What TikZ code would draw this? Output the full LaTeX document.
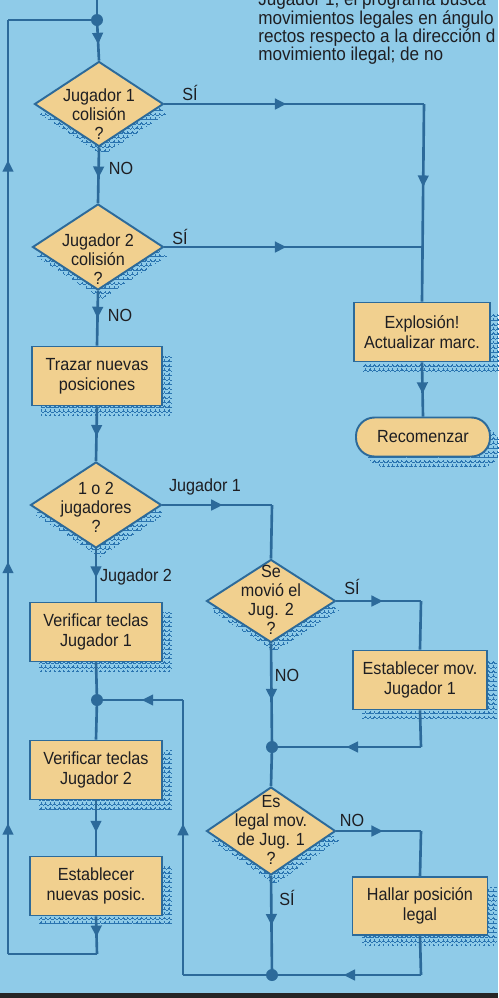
\documentclass[tikz,border=0pt]{standalone}
\usepackage{fontspec}
\setmainfont[FakeStretch=0.92]{Liberation Sans}
\usetikzlibrary{arrows.meta, positioning, shapes.geometric, decorations.markings, shadows, patterns.meta}
\definecolor{fcsky}{HTML}{8FCBE8}
\definecolor{fctan}{HTML}{F1D08F}
\definecolor{fcline}{HTML}{2C6A9A}
\definecolor{fcshade}{HTML}{2A74B0}
\definecolor{fcink}{HTML}{1E1E22}

\tikzdeclarepattern{
  name=scallop,
  type=uncolored,
  bounding box={(-0.4pt,-0.4pt) and (3pt,3pt)},
  tile size={(2.6pt,2.6pt)},
  line width=0.8pt,
  code={\draw (0,1.9pt) arc[start angle=180, end angle=360, radius=1.3pt];}
}

\tikzset{
  flow/.style={fcline, line width=1.5pt},
  arrowat/.style={postaction={decorate, decoration={markings,
      mark=at position #1 with {\arrow{Triangle[length=2.3mm, width=2.1mm]}}}}},
  txt/.style={font=\fontsize{10}{11.3}\selectfont, text=fcink, align=center},
  dtxt/.style={font=\fontsize{10}{10.8}\selectfont, text=fcink, align=center},
  boxshade/.style={drop shadow={shadow xshift=1.9mm, shadow yshift=-2mm,
      opacity=1, fill=none, pattern=scallop, pattern color=fcshade}},
  decshade/.style={drop shadow={shadow xshift=0.7mm, shadow yshift=-1.8mm,
      opacity=1, fill=none, pattern=scallop, pattern color=fcshade}},
  pbox/.style={rectangle, draw=fcline, line width=1.1pt, fill=fctan,
      minimum width=2.64cm, minimum height=1.18cm, inner sep=2pt, boxshade, txt},
  dec/.style={diamond, draw=fcline, line width=1.1pt, fill=fctan,
      minimum width=2.58cm, minimum height=1.7cm, inner sep=0pt, decshade},
  term/.style={rectangle, rounded corners=0.37cm, draw=fcline, line width=1.1pt,
      fill=fctan, minimum width=2.68cm, minimum height=0.78cm, boxshade, txt},
  dot/.style={circle, fill=fcline, inner sep=0pt, minimum size=0.24cm},
  lbl/.style={txt, inner sep=0pt},
}

\begin{document}
\begin{tikzpicture}[x=0.02cm, y=-0.02cm]
  \useasboundingbox (0,0) rectangle (498,998);
  \clip (0,0) rectangle (498,998);
  \fill[fcsky] (0,0) rectangle (498,998);
  \fill[black!85] (0,993) rectangle (498,998);

  % note text running off the top of the page
  \node[txt, align=left, anchor=north west, inner sep=0pt,
        font=\fontsize{10.6}{10.4}\selectfont] (note) at (258,-8)
    {Jugador 1, el programa busca\\movimientos legales en ángulo\\
     rectos respecto a la dirección d\\movimiento ilegal; de no};

  % main column
  \node[dec] (d1) at (99,104) {};
  \node[dtxt] (d1t) at (99,114) {Jugador 1\\colisión\\?};
  \node[dec, minimum width=2.62cm, minimum height=1.72cm] (d2) at (98,247) {};
  \node[dtxt] (d2t) at (98,259) {Jugador 2\\colisión\\?};
  \node[pbox, minimum width=2.6cm] (tr) at (97,376) {Trazar nuevas\\posiciones};
  \node[dec, minimum width=2.62cm, minimum height=1.72cm] (d3) at (96,505) {};
  \node[dtxt] (d3t) at (96,507) {1 o 2\\jugadores\\?};
  \node[pbox] (v1) at (96,632) {Verificar teclas\\Jugador 1};
  \node[pbox] (v2) at (96,770) {Verificar teclas\\Jugador 2};
  \node[pbox] (en) at (96,886) {Establecer\\nuevas posic.};

  % right column
  \node[pbox, minimum width=2.72cm] (ex) at (422,332) {Explosión!\\Actualizar marc.};
  \node[term] (rc) at (423,437) {Recomenzar};
  \node[dec, minimum height=1.66cm] (d4) at (271,601) {};
  \node[dtxt] (d4t) at (271,600) {Se\\movió el\\Jug. 2\\?};
  \node[pbox, minimum width=2.68cm] (em) at (420,680) {Establecer mov.\\Jugador 1};
  \node[dec, minimum height=1.76cm] (d5) at (271,831) {};
  \node[dtxt] (d5t) at (271,830) {Es\\legal mov.\\de Jug. 1\\?};
  \node[pbox, minimum width=2.7cm, minimum height=1.16cm] (hl) at (420,906) {Hallar posición\\legal};

  % corners and joints
  \coordinate (in) at (97,0);
  \node[dot] (j0) at (97,20) {};
  \node[dot] (j1) at (97,700) {};
  \node[dot] (j2) at (272,747) {};
  \node[dot] (j3) at (272,975) {};
  \coordinate (c1) at (424,104);
  \coordinate (c2) at (424,247);
  \coordinate (c3) at (272,505);
  \coordinate (c4) at (97,954);
  \coordinate (c5) at (8,954);
  \coordinate (c6) at (8,20);
  \coordinate (c7) at (421,601);
  \coordinate (c8) at (421,747);
  \coordinate (c9) at (421,831);
  \coordinate (c10) at (421,975);
  \coordinate (c11) at (183,975);
  \coordinate (c12) at (183,700);

  % connectors
  \draw[flow] (in) -- (j0.center);
  \draw[flow, arrowat=0.6] (j0.center) -- (d1.north);
  \draw[flow, arrowat=0.55] (d1.south) -- (d2.north);
  \draw[flow, arrowat=0.47] (d1.east) -- (c1);
  \draw[flow, arrowat=0.42] (c1) -- (ex.north);
  \draw[flow, arrowat=0.47] (d2.east) -- (c2);
  \draw[flow, arrowat=0.5] (d2.south) -- (tr.north);
  \draw[flow, arrowat=0.55] (tr.south) -- (d3.north);
  \draw[flow, arrowat=0.58] (ex.south) -- (rc.north);
  \draw[flow, arrowat=0.55] (d3.east) -- (c3);
  \draw[flow] (c3) -- (d4.north);
  \draw[flow, arrowat=0.55] (d3.south) -- (v1.north);
  \draw[flow] (v1.south) -- (j1.center) -- (v2.north);
  \draw[flow, arrowat=0.58] (v2.south) -- (en.north);
  \draw[flow, arrowat=0.55] (en.south) -- (c4);
  \draw[flow] (c4) -- (c5);
  \draw[flow, arrowat=0.14, arrowat=0.42, arrowat=0.85] (c5) -- (c6);
  \draw[flow] (c6) -- (j0.center);
  \draw[flow, arrowat=0.55] (d4.east) -- (c7);
  \draw[flow] (c7) -- (em.north);
  \draw[flow] (em.south) -- (c8);
  \draw[flow, arrowat=0.5] (c8) -- (j2.center);
  \draw[flow, arrowat=0.55] (d4.south) -- (j2.center);
  \draw[flow] (j2.center) -- (d5.north);
  \draw[flow, arrowat=0.55] (d5.east) -- (c9);
  \draw[flow] (c9) -- (hl.north);
  \draw[flow] (hl.south) -- (c10);
  \draw[flow, arrowat=0.52] (c10) -- (j3.center);
  \draw[flow, arrowat=0.5] (d5.south) -- (j3.center);
  \draw[flow] (j3.center) -- (c11);
  \draw[flow, arrowat=0.55] (c11) -- (c12);
  \draw[flow, arrowat=0.48] (c12) -- (j1.center);

  % branch labels
  \node[lbl] (s1) at (190,93) {SÍ};
  \node[lbl] (n1) at (121,168) {NO};
  \node[lbl] (s2) at (180,237) {SÍ};
  \node[lbl] (n2) at (120,315) {NO};
  \node[lbl] (g1) at (205,487) {Jugador 1};
  \node[lbl] (g2) at (136,577) {Jugador 2};
  \node[lbl] (s4) at (352,587) {SÍ};
  \node[lbl] (n4) at (287,675) {NO};
  \node[lbl] (n5) at (352,820) {NO};
  \node[lbl] (s5) at (287,898) {SÍ};
\end{tikzpicture}
\end{document}
